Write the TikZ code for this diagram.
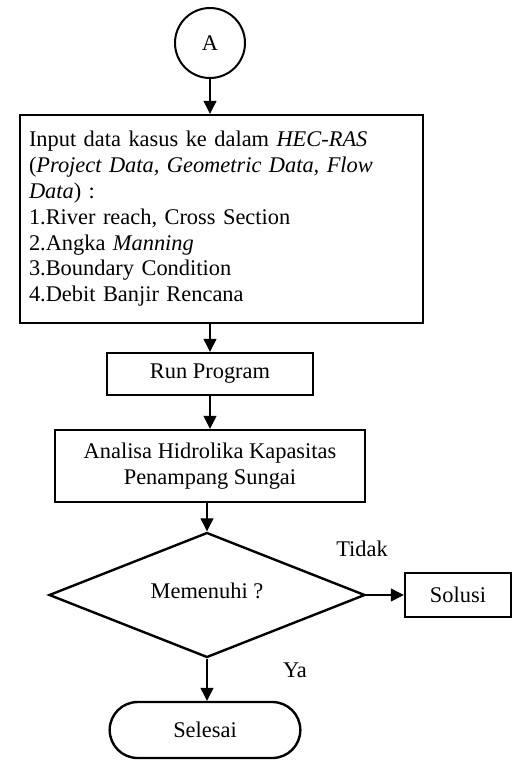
\documentclass[tikz,border=0pt]{standalone}
\usepackage{fontspec}
\setmainfont{Liberation Serif}
\usetikzlibrary{shapes.geometric,shapes.misc,arrows.meta}

\begin{document}
\begin{tikzpicture}[x=0.5pt, y=-0.5pt,
  font=\fontsize{11.2pt}{12.9pt}\selectfont,
  box/.style={draw, rectangle, line width=1.2pt, inner sep=0pt, align=center},
  flow/.style={line width=0.6pt, -{Triangle[length=6.5pt, width=6.5pt]}}]
  \useasboundingbox (0,0) rectangle (513,761);
  \node[draw, circle, line width=1pt, minimum size=35pt, inner sep=0pt] (A) at (210,43) {A};
  \node[box, minimum width=201.5pt, minimum height=104pt, text width=192.5pt, align=left] (input) at (221.5,219) {Input data kasus ke dalam \textit{HEC-RAS}\\(\textit{Project Data, Geometric Data, Flow}\\\textit{Data}) :\\1.River reach, Cross Section\\2.Angka \textit{Manning}\\3.Boundary Condition\\4.Debit Banjir Rencana};
  \node[box, minimum width=103pt, minimum height=21pt] (run) at (210,374) {Run Program};
  \node[box, minimum width=155pt, minimum height=36pt] (analisa) at (210,466) {Analisa Hidrolika Kapasitas\\Penampang Sungai};
  \node[draw, diamond, aspect=2.5, line width=1.2pt, inner sep=0pt, minimum width=158pt, minimum height=62.5pt] (cek) at (207,595) {\raisebox{4pt}{Memenuhi ?}};
  \node[box, minimum width=53pt, minimum height=22pt] (solusi) at (458,595) {Solusi};
  \node[draw, rounded rectangle, line width=1.2pt, minimum width=102pt, minimum height=28pt] (selesai) at (205,730) {Selesai};
  \node (tidak) at (362,549) {Tidak};
  \node (ya) at (295,670) {Ya};
  \draw[flow] (A) -- (A |- input.north);
  \draw[flow] (run.north |- input.south) -- (run.north);
  \draw[flow] (run) -- (analisa);
  \draw[flow] (cek.north |- analisa.south) -- (cek.north);
  \draw[flow] (cek) -- (solusi);
  \draw[flow] (cek.south) -- (selesai.north -| cek.south);
\end{tikzpicture}
\end{document}
